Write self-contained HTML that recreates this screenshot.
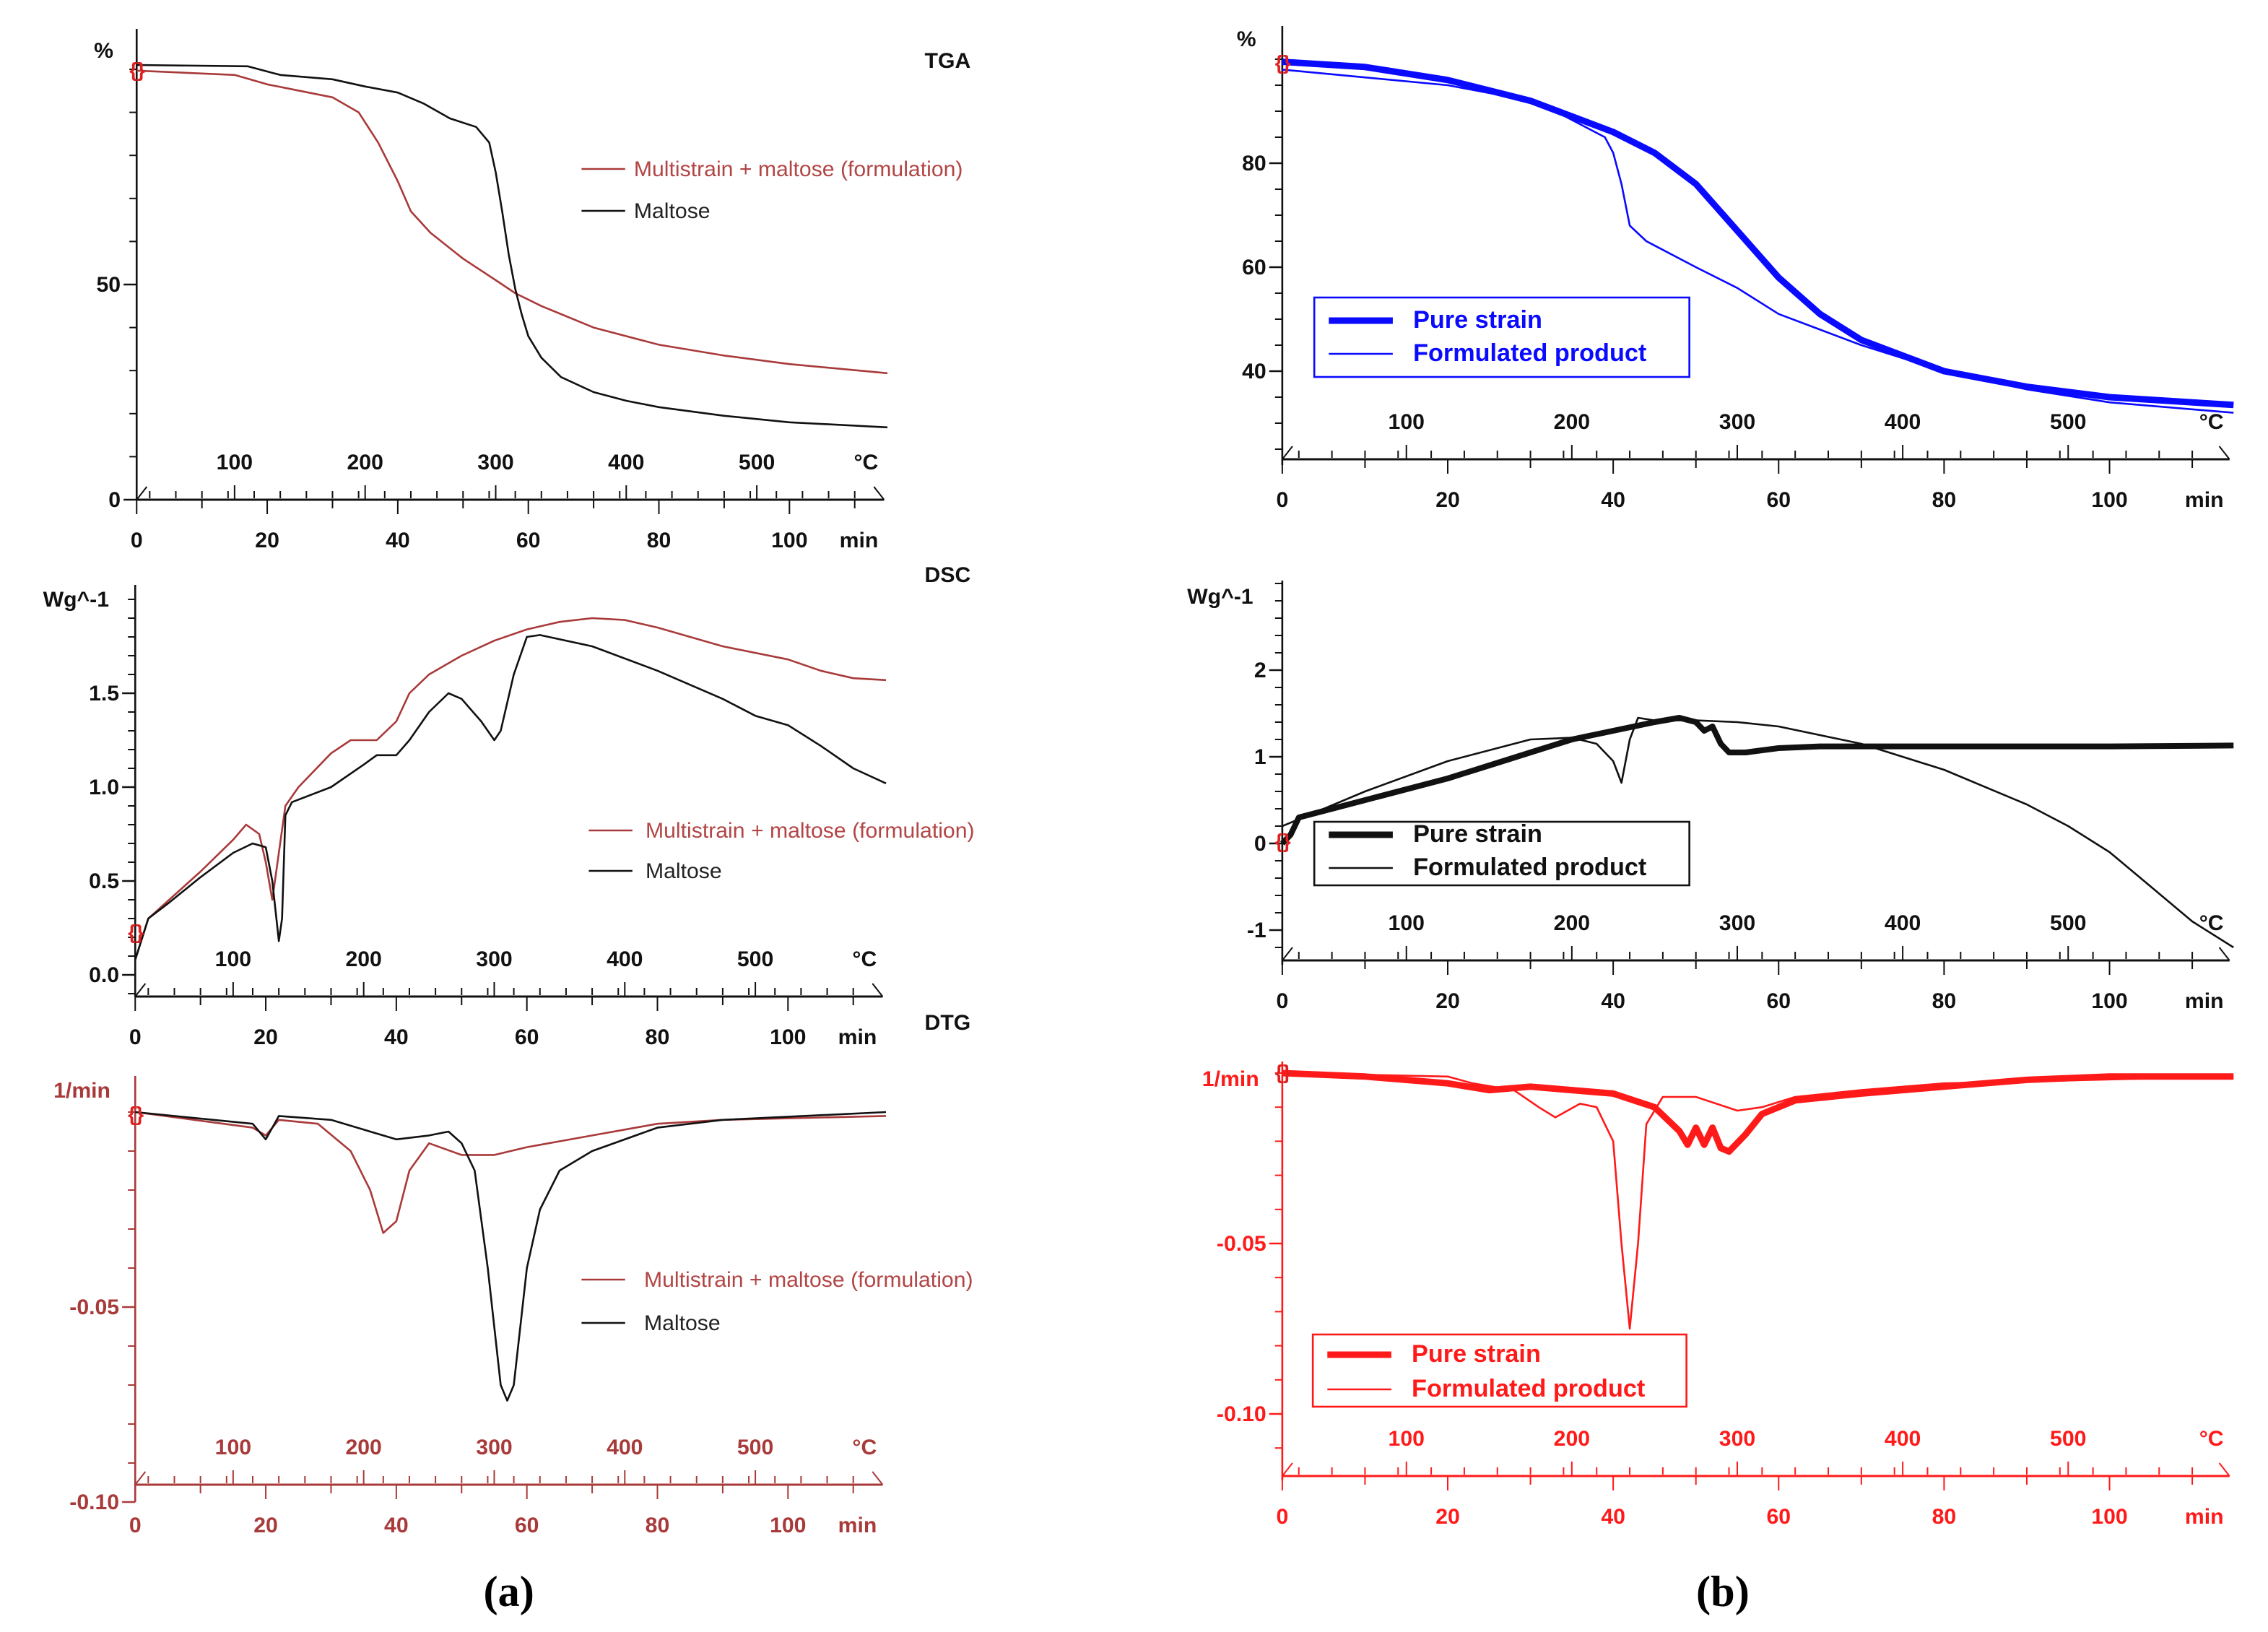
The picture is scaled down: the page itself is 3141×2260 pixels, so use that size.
<!DOCTYPE html>
<html><head><meta charset="utf-8"><title>TGA / DSC / DTG curves</title>
<style>
html,body{margin:0;padding:0;background:#fff;}
svg{display:block;}
text{font-family:"Liberation Sans",Arial,sans-serif;}
.tk{font-weight:bold;font-size:15px;font-family:"Liberation Sans Narrow","Liberation Sans",Arial,sans-serif;}
.serif{font-family:"Liberation Serif","Times New Roman",serif;}
</style></head>
<body>
<svg id="fig" width="3141" height="2260" viewBox="0 0 1560 1130" preserveAspectRatio="none" xmlns="http://www.w3.org/2000/svg"></svg>
<script>
// ---------- data (time in min, value in axis units) ----------
const aTgaMaltose = [[0,101],[17,100.7],[20,99.5],[22,98.7],[30,97.7],[35,96],[40,94.6],[44,92],[48,88.6],[52,86.6],[54,83],[55,76],[56,67],[57,57],[58,49],[59,43],[60,38],[62,33],[65,28.5],[70,25],[75,23],[80,21.5],[90,19.5],[100,18],[115,16.8]];
const aTgaForm = [[0,99.7],[15,98.7],[20,96.5],[25,95],[30,93.5],[34,90],[37,83],[40,74],[42,67],[45,62],[50,56],[55,51],[58,48],[62,45],[70,40],[80,36],[90,33.5],[100,31.5],[115,29.4]];
const aDscMaltose = [[0,0.08],[2,0.3],[5,0.38],[10,0.52],[15,0.65],[18,0.7],[20,0.68],[21,0.5],[22,0.18],[22.5,0.3],[23,0.85],[24,0.92],[30,1.0],[35,1.12],[37,1.17],[40,1.17],[42,1.25],[45,1.4],[48,1.5],[50,1.47],[53,1.35],[55,1.25],[56,1.3],[58,1.6],[60,1.8],[62,1.81],[70,1.75],[80,1.62],[90,1.47],[95,1.38],[100,1.33],[105,1.22],[110,1.1],[115,1.02]];
const aDscForm = [[0,0.08],[2,0.3],[10,0.55],[15,0.72],[17,0.8],[19,0.75],[20,0.6],[21,0.4],[22,0.65],[23,0.9],[25,1.0],[30,1.18],[33,1.25],[37,1.25],[40,1.35],[42,1.5],[45,1.6],[50,1.7],[55,1.78],[60,1.84],[65,1.88],[70,1.9],[75,1.89],[80,1.85],[90,1.75],[100,1.68],[105,1.62],[110,1.58],[115,1.57]];
const aDtgMaltose = [[0,0],[18,-0.003],[20,-0.007],[22,-0.001],[30,-0.002],[40,-0.007],[45,-0.006],[48,-0.005],[50,-0.008],[52,-0.015],[54,-0.04],[56,-0.07],[57,-0.074],[58,-0.07],[60,-0.04],[62,-0.025],[65,-0.015],[70,-0.01],[80,-0.004],[90,-0.002],[115,0]];
const aDtgForm = [[0,0],[18,-0.004],[20,-0.006],[22,-0.002],[28,-0.003],[33,-0.01],[36,-0.02],[38,-0.031],[40,-0.028],[42,-0.015],[45,-0.008],[50,-0.011],[55,-0.011],[60,-0.009],[70,-0.006],[80,-0.003],[90,-0.002],[115,-0.001]];
const bTgaPure = [[0,99.5],[10,98.5],[20,96],[30,92],[35,89],[40,86],[45,82],[50,76],[55,67],[60,58],[65,51],[70,46],[80,40],[90,37],[100,35],[115,33.5]];
const bTgaForm = [[0,98],[10,96.5],[20,95],[30,92],[33,90],[36,87.5],[39,85],[40,82],[41,76],[42,68],[44,65],[50,60],[55,56],[60,51],[65,48],[70,45],[80,40],[90,36.5],[100,34],[115,32]];
const bDscPure = [[0,0],[1,0.1],[2,0.3],[10,0.5],[20,0.75],[25,0.9],[30,1.05],[35,1.2],[40,1.3],[45,1.4],[48,1.45],[50,1.4],[51,1.3],[52,1.35],[53,1.15],[54,1.05],[56,1.05],[60,1.1],[65,1.12],[80,1.12],[100,1.12],[115,1.13]];
const bDscForm = [[0,0.2],[10,0.6],[20,0.95],[30,1.2],[35,1.22],[38,1.15],[40,0.95],[41,0.7],[42,1.2],[43,1.45],[45,1.42],[50,1.42],[55,1.4],[60,1.35],[70,1.15],[80,0.85],[90,0.45],[95,0.2],[100,-0.1],[105,-0.5],[110,-0.9],[115,-1.2]];
const bDtgPure = [[0,0],[10,-0.001],[20,-0.003],[25,-0.005],[30,-0.004],[35,-0.005],[40,-0.006],[45,-0.01],[48,-0.017],[49,-0.021],[50,-0.016],[51,-0.021],[52,-0.016],[53,-0.022],[54,-0.023],[56,-0.018],[58,-0.012],[62,-0.008],[70,-0.006],[80,-0.004],[90,-0.002],[100,-0.001],[115,-0.001]];
const bDtgForm = [[0,0],[20,-0.001],[23,-0.003],[28,-0.005],[31,-0.01],[33,-0.013],[36,-0.009],[38,-0.01],[40,-0.02],[41,-0.05],[42,-0.075],[43,-0.05],[44,-0.015],[46,-0.007],[50,-0.007],[55,-0.011],[58,-0.01],[62,-0.007],[70,-0.005],[80,-0.003],[115,-0.001]];
const minTicks = [0,20,40,60,80,100];
const degTicks = [100,200,300,400,500];

const NS="http://www.w3.org/2000/svg";
const svg=document.getElementById('fig');
function mk(tag,attrs,parent){const e=document.createElementNS(NS,tag);for(const k in attrs)e.setAttribute(k,attrs[k]);(parent||svg).appendChild(e);return e;}
function txt(s,x,y,attrs,parent){const e=mk('text',Object.assign({x:x,y:y},attrs),parent);e.textContent=s;return e;}

function panel(p){
  const g=mk('g',{});
  
  
  const X=t=>p.x0+t*p.pxMin, Y=v=>p.yFn(v);
  const c=p.axisColor;
  const ya=mk('line',{x1:p.x0,y1:p.yTop,x2:p.x0,y2:p.yBot,stroke:c,'stroke-width':1.3},g);
  
  for(const yt of p.minorY){mk('line',{x1:p.x0-5,y1:yt,x2:p.x0,y2:yt,stroke:c,'stroke-width':1},g);}
  for(const yl of p.yLabels){
    mk('line',{x1:p.x0-9,y1:Y(yl[0]),x2:p.x0,y2:Y(yl[0]),stroke:c,'stroke-width':1.2},g);
    const t=txt(yl[1],p.x0-11,Y(yl[0])+5,{'class':'tk','text-anchor':'end',fill:p.labelColor},g);
    
  }
  if(p.unit){const u=txt(p.unit[0],p.unit[1],p.unit[2],{'class':'tk','text-anchor':'end',fill:p.labelColor},g);}
  const xEnd=X(114.5);
  const xa=mk('line',{x1:p.x0,y1:p.xAxisY,x2:xEnd,y2:p.xAxisY,stroke:c,'stroke-width':1.5},g);
  
  mk('line',{x1:p.x0,y1:p.xAxisY,x2:p.x0+7,y2:p.xAxisY-9,stroke:c,'stroke-width':1},g);
  mk('line',{x1:xEnd,y1:p.xAxisY,x2:xEnd-7,y2:p.xAxisY-9,stroke:c,'stroke-width':1},g);
  for(let t=0;t<=110;t+=10){mk('line',{x1:X(t),y1:p.xAxisY,x2:X(t),y2:p.xAxisY+(t%20===0?10:6),stroke:c,'stroke-width':1},g);}
  const degX=d=>X((d-25)/5);
  for(let d=35;d<=575;d+=20){mk('line',{x1:degX(d),y1:p.xAxisY-1,x2:degX(d),y2:p.xAxisY-(d%100===25?9:6),stroke:c,'stroke-width':1},g);}
  for(const d of degTicks){mk('line',{x1:degX(d),y1:p.xAxisY,x2:degX(d),y2:p.xAxisY-10,stroke:c,'stroke-width':1},g);
    const t=txt(String(d),degX(d),p.xAxisY-21,{'class':'tk','text-anchor':'middle',fill:p.labelColor},g);
    }
  txt('°C',xEnd-4,p.xAxisY-21,{'class':'tk','text-anchor':'end',fill:p.labelColor},g);
  for(const m of minTicks){const t=txt(String(m),X(m),p.xAxisY+33,{'class':'tk','text-anchor':'middle',fill:p.labelColor},g);
    }
  txt('min',xEnd-4,p.xAxisY+33,{'class':'tk','text-anchor':'end',fill:p.labelColor},g);
  for(const s of p.series){
    const d=s.data.map((pt,i)=>(i?'L':'M')+X(pt[0]).toFixed(1)+','+Y(pt[1]).toFixed(1)).join(' ');
    const path=mk('path',{d:d,fill:'none',stroke:s.color,'stroke-width':s.w,'stroke-linejoin':'round'},g);
    
  }
  mk('text',{x:p.x0-5,y:p.markY,fill:'#e02020','font-size':'14','font-weight':'bold'},g).textContent='{}';
  if(p.title){const t=txt(p.title[0],p.title[1],p.title[2],{'class':'tk',fill:'#111'},g);}
  const L=p.legend;
  const lg=mk('g',{},g);
  
  if(L.box){mk('rect',{x:L.box[0],y:L.box[1],width:L.box[2],height:L.box[3],fill:'#fff',stroke:L.boxColor,'stroke-width':1.3},lg);}
  L.items.forEach(it=>{
    mk('line',{x1:it.x1,y1:it.y,x2:it.x2,y2:it.y,stroke:it.color,'stroke-width':it.w},lg);
    const t=txt(it.label,it.tx,it.y+5,{fill:it.tcolor,'font-size':L.fs,'font-weight':L.fw},lg);
    
  });
}

const RED_A='#a93a3a';
const aLeg=(y1,y2,lx,tx)=>({fs:15,fw:'normal',items:[
  {x1:lx,x2:lx+30,y:y1,color:RED_A,w:1.3,tx:tx,tcolor:'#b24545',label:'Multistrain + maltose (formulation)'},
  {x1:lx,x2:lx+30,y:y2,color:'#111',w:1.3,tx:tx,tcolor:'#222',label:'Maltose'}]});
const bLeg=(box,col,y1,y2)=>({box:box,boxColor:col,fs:17,fw:'bold',items:[
  {x1:box[0]+10,x2:box[0]+54,y:y1,color:col,w:4.5,tx:box[0]+68,tcolor:col,label:'Pure strain'},
  {x1:box[0]+10,x2:box[0]+54,y:y2,color:col,w:1.3,tx:box[0]+68,tcolor:col,label:'Formulated product'}]});
function ticksBetween(a,b,step){const r=[];for(let y=a;y<=b+0.1;y+=step)r.push(y);return r;}

panel({name:'tga-panel-a',x0:94,pxMin:4.49,yTop:20,yBot:346,xAxisY:346,yFn:v=>346-v*2.98,axisColor:'#111',labelColor:'#111',
  minorY:ticksBetween(48,346,29.8),yLabels:[[0,'0'],[50,'50']],unit:['%',78,40],markY:53,title:['TGA',636,47],
  series:[{name:'tga-formulation-line',data:aTgaForm,color:RED_A,w:1.3},{name:'tga-maltose-line',data:aTgaMaltose,color:'#111',w:1.3}],
  legend:aLeg(117,146,400,436)});
panel({name:'dsc-panel-a',x0:93,pxMin:4.49,yTop:405,yBot:690,xAxisY:690,yFn:v=>675-v*130,axisColor:'#111',labelColor:'#111',
  minorY:ticksBetween(415,690,13),yLabels:[[0,'0.0'],[0.5,'0.5'],[1,'1.0'],[1.5,'1.5']],unit:['Wg^-1',75,420],markY:650,title:['DSC',636,403],
  series:[{name:'dsc-formulation-line',data:aDscForm,color:RED_A,w:1.3},{name:'dsc-maltose-line',data:aDscMaltose,color:'#111',w:1.3}],
  legend:aLeg(575,603,405,444)});
panel({name:'dtg-panel-a',x0:93,pxMin:4.49,yTop:745,yBot:1040,xAxisY:1028,yFn:v=>770-v*2700,axisColor:RED_A,labelColor:RED_A,
  minorY:ticksBetween(770,1040,27),yLabels:[[-0.05,'-0.05'],[-0.1,'-0.10']],unit:['1/min',76,760],markY:776,title:['DTG',636,713],
  series:[{name:'dtg-formulation-line',data:aDtgForm,color:RED_A,w:1.3},{name:'dtg-maltose-line',data:aDtgMaltose,color:'#111',w:1.3}],
  legend:aLeg(886,916,400,443)});
panel({name:'tga-panel-b',x0:882,pxMin:5.69,yTop:18,yBot:322,xAxisY:318,yFn:v=>41+(100-v)*3.6,axisColor:'#111',labelColor:'#111',
  minorY:ticksBetween(41,318,18),yLabels:[[40,'40'],[60,'60'],[80,'80']],unit:['%',864,32],markY:48,
  series:[{name:'tga-pure-strain-line',data:bTgaPure,color:'#0a0aff',w:4.5},{name:'tga-formulated-product-line',data:bTgaForm,color:'#0a0aff',w:1.3}],
  legend:bLeg([904,206,258,55],'#0a0aff',222,245)});
panel({name:'dsc-panel-b',x0:882,pxMin:5.69,yTop:402,yBot:668,xAxisY:665,yFn:v=>584-v*60,axisColor:'#111',labelColor:'#111',
  minorY:ticksBetween(404,665,12),yLabels:[[-1,'-1'],[0,'0'],[1,'1'],[2,'2']],unit:['Wg^-1',862,418],markY:587,
  series:[{name:'dsc-pure-strain-line',data:bDscPure,color:'#111',w:4},{name:'dsc-formulated-product-line',data:bDscForm,color:'#111',w:1.3}],
  legend:bLeg([904,569,258,44],'#111',578,601)});
panel({name:'dtg-panel-b',x0:882,pxMin:5.69,yTop:735,yBot:1025,xAxisY:1022,yFn:v=>743-v*2360,axisColor:'#ff1a1a',labelColor:'#ff1a1a',
  minorY:ticksBetween(743,1022,23.6),yLabels:[[-0.05,'-0.05'],[-0.1,'-0.10']],unit:['1/min',866,752],markY:747,
  series:[{name:'dtg-pure-strain-line',data:bDtgPure,color:'#ff1a1a',w:4.5},{name:'dtg-formulated-product-line',data:bDtgForm,color:'#ff1a1a',w:1.3}],
  legend:bLeg([903,924,257,50],'#ff1a1a',938,962)});

const la=txt('(a)',350,1112,{'text-anchor':'middle','font-size':'30','font-weight':'bold','class':'serif',style:'font-family:"Liberation Serif",serif',fill:'#000'});

const lb=txt('(b)',1185,1112,{'text-anchor':'middle','font-size':'30','font-weight':'bold','class':'serif',style:'font-family:"Liberation Serif",serif',fill:'#000'});

</script>
</body></html>
